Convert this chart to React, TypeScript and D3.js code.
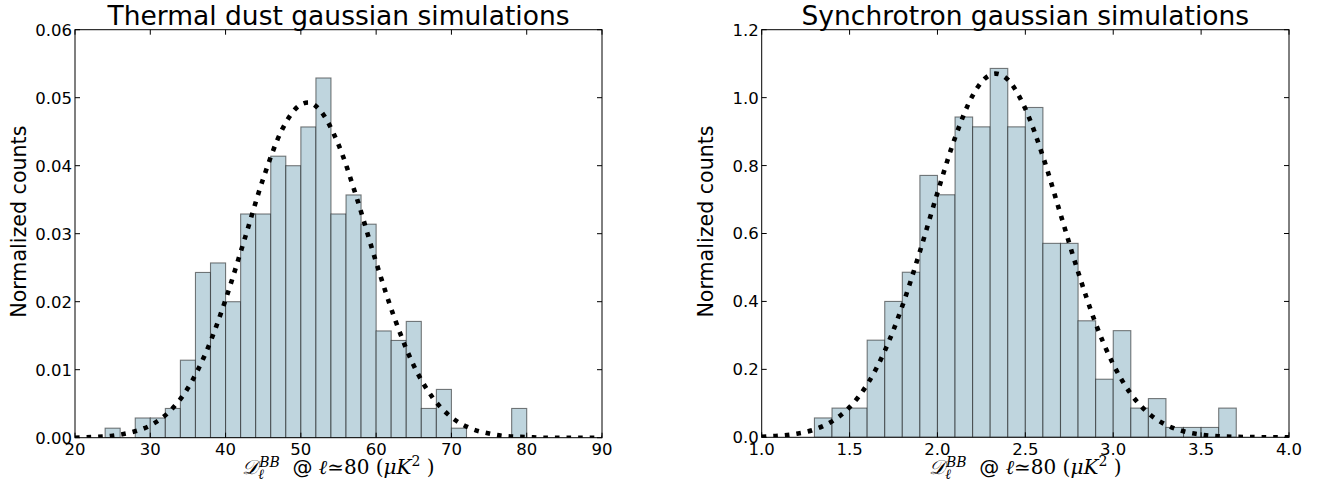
import React from 'react'
import * as d3 from 'd3'

// thermal dust histogram (bin width 2, normalized counts)
const dustBinLeft = [24, 26, 28, 30, 32, 34, 36, 38, 40, 42, 44, 46, 48, 50, 52, 54, 56, 58, 60, 62, 64, 66, 68, 70, 72, 74, 76, 78]
const dustDensity = [0.0014, 0, 0.0029, 0.0029, 0.0043, 0.0114, 0.0243, 0.0257, 0.0200, 0.0329, 0.0329, 0.0414, 0.0400, 0.0457, 0.0529, 0.0329, 0.0357, 0.0314, 0.0157, 0.0143, 0.0171, 0.0043, 0.0071, 0.0014, 0, 0, 0, 0.0043]
// dotted gaussian fit
const dustFitX = [20, 22.5, 25, 27.5, 30, 32.5, 35, 37.5, 40, 42.5, 45, 47.5, 50, 51, 52.5, 55, 57.5, 60, 62.5, 65, 67.5, 70, 72.5, 75, 77.5, 80, 82.5, 85, 87.5, 90]
const dustFitY = [0, 0.0001, 0.0003, 0.0008, 0.0018, 0.0038, 0.0073, 0.0128, 0.0203, 0.0291, 0.0381, 0.0453, 0.0490, 0.0493, 0.0482, 0.0431, 0.0350, 0.0258, 0.0174, 0.0106, 0.0059, 0.0030, 0.0014, 0.0006, 0.0002, 0.0001, 0, 0, 0, 0]
const dustXTicks = [20, 30, 40, 50, 60, 70, 80, 90]
const dustYTicks = [0, 0.01, 0.02, 0.03, 0.04, 0.05, 0.06]

// synchrotron histogram (bin width 0.1)
const synchBinLeft = [1.3, 1.4, 1.5, 1.6, 1.7, 1.8, 1.9, 2.0, 2.1, 2.2, 2.3, 2.4, 2.5, 2.6, 2.7, 2.8, 2.9, 3.0, 3.1, 3.2, 3.3, 3.4, 3.5, 3.6]
const synchDensity = [0.057, 0.086, 0.086, 0.286, 0.400, 0.486, 0.771, 0.714, 0.943, 0.914, 1.086, 0.914, 0.971, 0.571, 0.571, 0.343, 0.171, 0.314, 0.086, 0.114, 0.029, 0.029, 0.029, 0.086]
const synchFitX = [1.0, 1.1, 1.2, 1.3, 1.4, 1.5, 1.6, 1.7, 1.8, 1.9, 2.0, 2.1, 2.2, 2.3, 2.33, 2.4, 2.5, 2.6, 2.7, 2.8, 2.9, 3.0, 3.1, 3.2, 3.3, 3.4, 3.5, 3.6, 3.7, 3.8, 3.9, 4.0]
const synchFitY = [0.0018, 0.0046, 0.0107, 0.0232, 0.0469, 0.0886, 0.1556, 0.2542, 0.3865, 0.547, 0.720, 0.882, 1.006, 1.067, 1.0706, 1.053, 0.967, 0.827, 0.657, 0.487, 0.335, 0.215, 0.128, 0.0711, 0.0367, 0.0176, 0.0079, 0.0033, 0.0013, 0.0005, 0.0002, 0.0001]
const synchXTicks = [1.0, 1.5, 2.0, 2.5, 3.0, 3.5, 4.0]
const synchYTicks = [0, 0.2, 0.4, 0.6, 0.8, 1.0, 1.2]

const W = 1320
const H = 492
const SANS = 'DejaVu Sans, sans-serif'
const SERIF = 'DejaVu Serif, serif'

function Panel(props) {
  const { id, title, left, right, top, bottom, xDomain, yDomain, xTicks, yTicks, xFmt, yFmt, binLeft, binWidth, density, fitX, fitY } = props
  const x = d3.scaleLinear().domain(xDomain).range([left, right])
  const y = d3.scaleLinear().domain(yDomain).range([bottom, top])
  const cx = (left + right) / 2
  const cy = (top + bottom) / 2

  const line = d3.line()
    .x((d, i) => x(fitX[i]))
    .y(d => y(d))
    .curve(d3.curveMonotoneX)

  const tickLen = 5
  const sub = 14

  return (
    <g>
      <defs>
        <clipPath id={id}>
          <rect x={left} y={top} width={right - left} height={bottom - top} />
        </clipPath>
      </defs>
      <g clipPath={`url(#${id})`}>
        {density.map((v, i) => v > 0 && (
          <rect key={i}
            x={x(binLeft[i])}
            y={y(v)}
            width={x(binLeft[i] + binWidth) - x(binLeft[i])}
            height={y(0) - y(v)}
            fill="#bfd5de"
            stroke="#000"
            strokeOpacity={0.5}
            strokeWidth={1.1} />
        ))}
        <path d={line(fitY)} fill="none" stroke="#000" strokeWidth={4.6} strokeDasharray="4.6 7" />
      </g>
      <rect x={left} y={top} width={right - left} height={bottom - top} fill="none" stroke="#000" strokeWidth={1} />
      {xTicks.map(t => (
        <g key={'x' + t}>
          <line x1={x(t)} x2={x(t)} y1={bottom} y2={bottom - tickLen} stroke="#000" />
          <line x1={x(t)} x2={x(t)} y1={top} y2={top + tickLen} stroke="#000" />
          <text x={x(t)} y={bottom + 17.5} textAnchor="middle" fontFamily={SANS} fontSize={16.5}>{xFmt(t)}</text>
        </g>
      ))}
      {yTicks.map(t => (
        <g key={'y' + t}>
          <line x1={left} x2={left + tickLen} y1={y(t)} y2={y(t)} stroke="#000" />
          <line x1={right} x2={right - tickLen} y1={y(t)} y2={y(t)} stroke="#000" />
          <text x={left - 3} y={y(t)} dy="0.36em" textAnchor="end" fontFamily={SANS} fontSize={16.5}>{yFmt(t)}</text>
        </g>
      ))}
      <text x={cx} y={25} textAnchor="middle" fontFamily={SANS} fontSize={26.5}>{title}</text>
      <text transform={`translate(${left - 49},${cy - 12}) rotate(-90)`} textAnchor="middle" fontFamily={SANS} fontSize={20.6}>Normalized counts</text>
      <text x={cx} y={474} textAnchor="middle" fontFamily={SERIF} fontSize={20}>
        <tspan fontStyle="italic">𝒟</tspan>
        <tspan fontSize={sub} fontStyle="italic" dy={5}>ℓ</tspan>
        <tspan fontSize={sub} fontStyle="italic" dx={-5} dy={-12}>BB</tspan>
        <tspan fontFamily={SANS} dy={7}>{'\u00a0\u00a0@\u00a0'}</tspan>
        <tspan fontStyle="italic">ℓ</tspan>
        <tspan>≃80 (</tspan>
        <tspan fontStyle="italic">μK</tspan>
        <tspan fontSize={sub} dy={-8}>2</tspan>
        <tspan dy={8}>{'\u00a0)'}</tspan>
      </text>
    </g>
  )
}

export default function App() {
  return (
    <svg width={W} height={H} style={{ position: 'absolute', left: 0, top: 0, background: '#fff' }}>
      <Panel id="clipDust" title="Thermal dust gaussian simulations"
        left={75} right={602} top={29.7} bottom={437.7}
        xDomain={[20, 90]} yDomain={[0, 0.06]}
        xTicks={dustXTicks} yTicks={dustYTicks}
        xFmt={d3.format('d')} yFmt={d3.format('.2f')}
        binLeft={dustBinLeft} binWidth={2} density={dustDensity}
        fitX={dustFitX} fitY={dustFitY} />
      <Panel id="clipSynch" title="Synchrotron gaussian simulations"
        left={761.7} right={1289} top={29.7} bottom={437.3}
        xDomain={[1, 4]} yDomain={[0, 1.2]}
        xTicks={synchXTicks} yTicks={synchYTicks}
        xFmt={d3.format('.1f')} yFmt={d3.format('.1f')}
        binLeft={synchBinLeft} binWidth={0.1} density={synchDensity}
        fitX={synchFitX} fitY={synchFitY} />
    </svg>
  )
}
